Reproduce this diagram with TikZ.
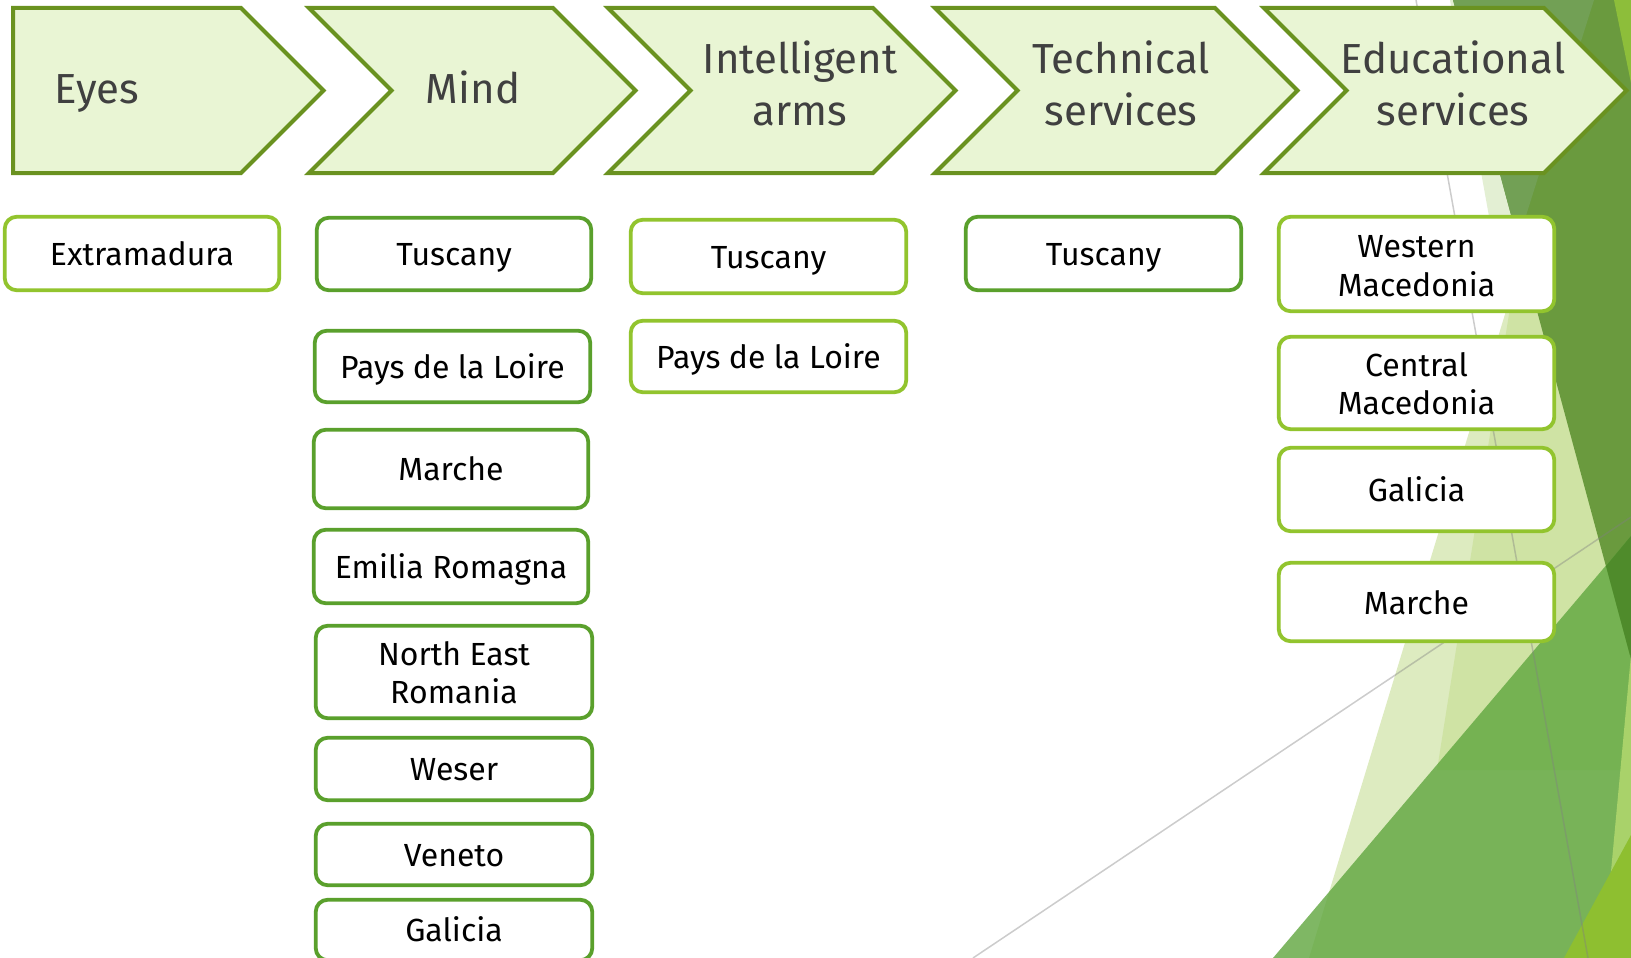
\documentclass[tikz,border=0pt]{standalone}
\usepackage{fontspec}
\setmainfont{Fira Sans}
\definecolor{chevfill}{HTML}{E9F5D4}
\definecolor{chevline}{HTML}{6A9220}
\definecolor{chevtext}{HTML}{404040}
\definecolor{boxdark}{HTML}{5AA02C}
\definecolor{boxlight}{HTML}{92C42E}
\definecolor{paleA}{HTML}{E3EFD3}
\definecolor{paleB}{HTML}{DDEBC0}
\definecolor{paleC}{HTML}{CFE3A4}
\definecolor{darkD}{HTML}{6A9A3E}
\definecolor{darkDl}{HTML}{72A055}
\definecolor{ygreen}{HTML}{8DBE3A}
\definecolor{midM}{RGB}{95,166,62}
\definecolor{deepO}{HTML}{4F8B2B}
\definecolor{paleY}{HTML}{A9D26A}
\definecolor{ybright}{HTML}{8EBF30}
\tikzset{
  chev/.style={fill=chevfill, draw=chevline, line width=4pt, line join=miter},
  chevtxt/.style={text=chevtext, font=\fontsize{42}{51}\selectfont, inner sep=0pt, anchor=base},
  regbox/.style={rectangle, rounded corners=12pt, fill=white, line width=3.8pt, inner sep=0pt},
  darkbox/.style={regbox, draw=boxdark},
  lightbox/.style={regbox, draw=boxlight},
  boxtxt/.style={text=black, font=\fontsize{32}{38}\selectfont, inner sep=0pt, anchor=base},
  facetline/.style={draw=gray, draw opacity=0.4, line width=1.5pt}
}
\begin{document}
\begin{tikzpicture}[x=1pt, y=-1pt]
\useasboundingbox (0,0) rectangle (1631,958);
\fill[white] (0,0) rectangle (1631,958);
\clip (0,0) rectangle (1631,958);

% background facets
\fill[paleA] (1450,0) -- (1560,610) -- (1631,610) -- (1631,0) -- cycle;
\fill[paleB] (1555,150) -- (1309,958) -- (1631,958) -- (1631,150) -- cycle;
\fill[paleC] (1527,200) -- (1437,770) -- (1631,770) -- (1631,200) -- cycle;
\fill[darkD] (1453,0) -- (1631,0) -- (1631,659) -- cycle;
\fill[darkDl] (1453,0) -- (1594,0) -- (1518,241) -- cycle;
\fill[ygreen] (1614,0) -- (1631,0) -- (1631,83) -- cycle;
\fill[midM, fill opacity=0.8] (1273,958) -- (1631,536) -- (1631,958) -- cycle;
\fill[deepO] (1606,566) -- (1631,536) -- (1631,659) -- cycle;
\fill[paleY] (1631,655) -- (1603,958) -- (1631,958) -- cycle;
\fill[ybright] (1564,958) -- (1631,835) -- (1631,958) -- cycle;
\coordinate (g1a) at (1416,0);
\coordinate (g1b) at (1588,958);
\coordinate (g2a) at (973,958);
\coordinate (g2b) at (1631,517);
\draw[facetline] (g1a) -- (g1b);
\draw[facetline] (g2a) -- (g2b);

% chevrons
\draw[chev] (13,8) -- (241,8) -- (323.5,90.5) -- (241,173) -- (13,173) -- cycle;
\draw[chev] (309,8) -- (553,8) -- (635.5,90.5) -- (553,173) -- (309,173) -- (391.5,90.5) -- cycle;
\draw[chev] (608,8) -- (873,8) -- (955.5,90.5) -- (873,173) -- (608,173) -- (690.5,90.5) -- cycle;
\draw[chev] (935,8) -- (1215,8) -- (1297.5,90.5) -- (1215,173) -- (935,173) -- (1017.5,90.5) -- cycle;
\draw[chev] (1264,8) -- (1544,8) -- (1626.5,90.5) -- (1544,173) -- (1264,173) -- (1346.5,90.5) -- cycle;

\node[chevtxt] (c1) at (97,103) {Eyes};
\node[chevtxt] (c2) at (473,103) {Mind};
\node[chevtxt] (c3a) at (800,74) {Intelligent};
\node[chevtxt] (c3b) at (800,125) {arms};
\node[chevtxt] (c4a) at (1121,74) {Technical};
\node[chevtxt] (c4b) at (1121,125) {services};
\node[chevtxt] (c5a) at (1453,74) {Educational};
\node[chevtxt] (c5b) at (1453,125) {services};

% Eyes column
\node[lightbox, minimum width=274.5pt, minimum height=73.5pt] (e1) at (142,253.5) {};
\node[boxtxt] (e1t) at (142,265) {Extramadura};

% Mind column
\node[darkbox, minimum width=274.5pt, minimum height=72.5pt] (m1) at (454,254) {};
\node[boxtxt] (m1t) at (454,265.5) {Tuscany};
\node[darkbox, minimum width=275.5pt, minimum height=71.5pt] (m2) at (452.5,366.5) {};
\node[boxtxt] (m2t) at (452.5,378) {Pays de la Loire};
\node[darkbox, minimum width=274.5pt, minimum height=78.5pt] (m3) at (451,469) {};
\node[boxtxt] (m3t) at (451,480.5) {Marche};
\node[darkbox, minimum width=274.5pt, minimum height=73.5pt] (m4) at (451,566.5) {};
\node[boxtxt] (m4t) at (451,578) {Emilia Romagna};
\node[darkbox, minimum width=276.5pt, minimum height=92.5pt] (m5) at (454,672) {};
\node[boxtxt] (m5a) at (454,665) {North East};
\node[boxtxt] (m5b) at (454,703) {Romania};
\node[darkbox, minimum width=276.5pt, minimum height=62.5pt] (m6) at (454,769) {};
\node[boxtxt] (m6t) at (454,780.5) {Weser};
\node[darkbox, minimum width=276.5pt, minimum height=61.5pt] (m7) at (454,854.5) {};
\node[boxtxt] (m7t) at (454,866) {Veneto};
\node[darkbox, minimum width=276.5pt, minimum height=60.5pt] (m8) at (454,930) {};
\node[boxtxt] (m8t) at (454,941.5) {Galicia};

% Intelligent arms column
\node[lightbox, minimum width=275.5pt, minimum height=73.5pt] (i1) at (768.5,256.5) {};
\node[boxtxt] (i1t) at (768.5,268.5) {Tuscany};
\node[lightbox, minimum width=275.5pt, minimum height=71.5pt] (i2) at (768.5,356.5) {};
\node[boxtxt] (i2t) at (768.5,368) {Pays de la Loire};

% Technical services column
\node[darkbox, minimum width=275.5pt, minimum height=73.5pt] (t1) at (1103.5,253.5) {};
\node[boxtxt] (t1t) at (1103.5,265) {Tuscany};

% Educational services column
\node[lightbox, minimum width=275.5pt, minimum height=94.5pt] (d1) at (1416.5,264) {};
\node[boxtxt] (d1a) at (1416.5,257) {Western};
\node[boxtxt] (d1b) at (1416.5,296) {Macedonia};
\node[lightbox, minimum width=275.5pt, minimum height=92.5pt] (d2) at (1416.5,383) {};
\node[boxtxt] (d2a) at (1416.5,376) {Central};
\node[boxtxt] (d2b) at (1416.5,414) {Macedonia};
\node[lightbox, minimum width=275.5pt, minimum height=83.5pt] (d3) at (1416.5,489.5) {};
\node[boxtxt] (d3t) at (1416.5,501) {Galicia};
\node[lightbox, minimum width=275.5pt, minimum height=78.5pt] (d4) at (1416.5,602) {};
\node[boxtxt] (d4t) at (1416.5,614) {Marche};
\end{tikzpicture}
\end{document}
